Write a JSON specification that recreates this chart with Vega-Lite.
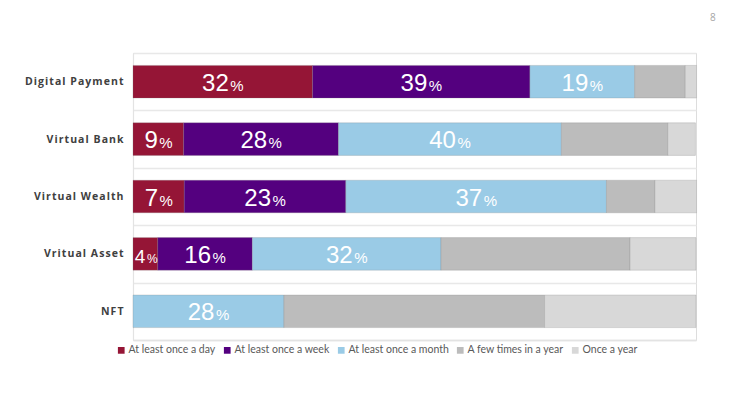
{
  "$schema": "https://vega.github.io/schema/vega-lite/v6.json",
  "width": 563,
  "height": 287,
  "autosize": {"type": "none"},
  "padding": {"left": 133, "top": 53, "right": 33, "bottom": 72},
  "background": "white",
  "title": {"text": "8", "anchor": "end", "orient": "top", "offset": 25, "dx": 19, "fontSize": 10, "color": "#a6a6a6", "fontWeight": "normal", "font": "Open Sans"},
  "data": {
    "values": [
      {"item": "Digital Payment", "freq": "At least once a day", "k": 1, "value": 31.9, "label": 32},
      {"item": "Digital Payment", "freq": "At least once a week", "k": 2, "value": 38.6, "label": 39},
      {"item": "Digital Payment", "freq": "At least once a month", "k": 3, "value": 18.6, "label": 19},
      {"item": "Digital Payment", "freq": "A few times in a year", "k": 4, "value": 9.0, "label": null},
      {"item": "Digital Payment", "freq": "Once a year", "k": 5, "value": 2.0, "label": null},
      {"item": "Virtual Bank", "freq": "At least once a day", "k": 1, "value": 9.0, "label": 9},
      {"item": "Virtual Bank", "freq": "At least once a week", "k": 2, "value": 27.5, "label": 28},
      {"item": "Virtual Bank", "freq": "At least once a month", "k": 3, "value": 39.6, "label": 40},
      {"item": "Virtual Bank", "freq": "A few times in a year", "k": 4, "value": 18.9, "label": null},
      {"item": "Virtual Bank", "freq": "Once a year", "k": 5, "value": 4.9, "label": null},
      {"item": "Virtual Wealth", "freq": "At least once a day", "k": 1, "value": 9.1, "label": 7},
      {"item": "Virtual Wealth", "freq": "At least once a week", "k": 2, "value": 28.7, "label": 23},
      {"item": "Virtual Wealth", "freq": "At least once a month", "k": 3, "value": 46.3, "label": 37},
      {"item": "Virtual Wealth", "freq": "A few times in a year", "k": 4, "value": 8.6, "label": null},
      {"item": "Virtual Wealth", "freq": "Once a year", "k": 5, "value": 7.4, "label": null},
      {"item": "Vritual Asset", "freq": "At least once a day", "k": 1, "value": 4.4, "label": 4},
      {"item": "Vritual Asset", "freq": "At least once a week", "k": 2, "value": 16.8, "label": 16},
      {"item": "Vritual Asset", "freq": "At least once a month", "k": 3, "value": 33.5, "label": 32},
      {"item": "Vritual Asset", "freq": "A few times in a year", "k": 4, "value": 33.6, "label": null},
      {"item": "Vritual Asset", "freq": "Once a year", "k": 5, "value": 11.7, "label": null},
      {"item": "NFT", "freq": "At least once a month", "k": 3, "value": 26.8, "label": 28},
      {"item": "NFT", "freq": "A few times in a year", "k": 4, "value": 46.3, "label": null},
      {"item": "NFT", "freq": "Once a year", "k": 5, "value": 26.9, "label": null}
    ]
  },
  "encoding": {
    "y": {
      "field": "item", "type": "nominal",
      "sort": ["Digital Payment", "Virtual Bank", "Virtual Wealth", "Vritual Asset", "NFT"],
      "scale": {"paddingInner": 0, "paddingOuter": 0},
      "axis": {
        "title": null, "ticks": false, "domain": true, "domainColor": "#e3e3e3", "domainWidth": 1.2,
        "grid": true, "gridColor": "#e8e8e8", "gridWidth": 1.5, "tickBand": "extent",
        "labelExpr": "replace(datum.label, /(.)/g, '$1\u200a')",
        "labelFont": "Open Sans", "labelFontWeight": "bold", "labelFontSize": 10.5, "labelColor": "#404040", "labelPadding": 10
      }
    },
    "x": {
      "field": "value", "type": "quantitative", "stack": "zero",
      "scale": {"domain": [0, 100], "nice": false},
      "axis": {"title": null, "labels": false, "ticks": false, "grid": false, "domain": true, "domainColor": "#e3e3e3", "domainWidth": 1.5}
    },
    "order": {"field": "k", "type": "quantitative"}
  },
  "layer": [
    {
      "mark": {"type": "bar", "height": {"band": 0.568}, "stroke": "#7a7a7a", "strokeWidth": 0.4, "strokeOpacity": 0.6},
      "encoding": {
        "color": {
          "field": "freq", "type": "nominal",
          "scale": {
            "domain": ["At least once a day", "At least once a week", "At least once a month", "A few times in a year", "Once a year"],
            "range": ["#951536", "#54007f", "#9acbe6", "#bcbcbc", "#d8d8d8"]
          },
          "legend": {
            "title": null, "orient": "none", "direction": "horizontal", "legendX": -17, "legendY": 292,
            "symbolType": "square", "symbolSize": 45, "symbolStrokeWidth": 0, "symbolOffset": 0,
            "labelFont": "Lato", "labelFontSize": 10.5, "labelColor": "#595959", "labelOffset": 2,
            "columnPadding": 6
          }
        }
      }
    },
    {
      "transform": [{"filter": "datum.label != null"}],
      "mark": {
        "type": "text", "color": "white", "font": "Liberation Sans", "align": "right", "baseline": "alphabetic", "dy": 9,
        "fontSize": {"expr": "datum.label < 5 ? 19 : 24"},
        "dx": {"expr": "datum.label >= 10 ? 6 : (datum.label < 5 ? 0 : -0.5)"}
      },
      "encoding": {
        "x": {"field": "value", "type": "quantitative", "stack": "zero", "bandPosition": 0.5},
        "text": {"field": "label", "type": "nominal"}
      }
    },
    {
      "transform": [{"filter": "datum.label != null"}],
      "mark": {
        "type": "text", "color": "white", "font": "Liberation Sans", "align": "left", "baseline": "alphabetic", "dy": 9,
        "fontSize": {"expr": "datum.label < 5 ? 12 : 15"},
        "dx": {"expr": "datum.label >= 10 ? 7.5 : (datum.label < 5 ? 1.5 : 1)"},
        "text": "%"
      },
      "encoding": {
        "x": {"field": "value", "type": "quantitative", "stack": "zero", "bandPosition": 0.5}
      }
    }
  ]
}
